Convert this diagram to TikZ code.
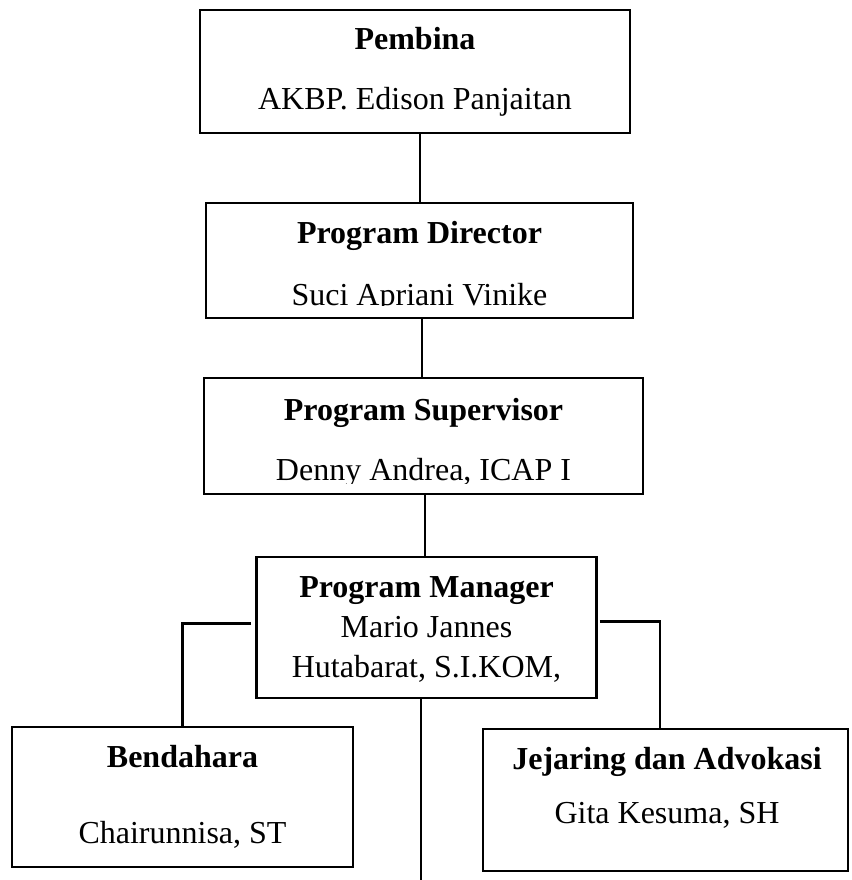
\documentclass[tikz,border=0pt]{standalone}
\usepackage{fontspec}
\setmainfont{Liberation Serif}
\begin{document}
\begin{tikzpicture}[x=1pt,y=-1pt,
  box/.style={draw, line width=2.6pt, rectangle, inner sep=0pt},
  txt/.style={anchor=base, inner sep=0pt, font=\fontsize{32}{38}\selectfont},
  hd/.style={txt, font=\fontsize{32}{38}\selectfont\bfseries},
  link/.style={line width=2.4pt}]
\useasboundingbox (0,0) rectangle (851,880);
% boxes
\node[box, minimum width=430pt, minimum height=123pt] (pem) at (415,71.5) {};
\node[box, minimum width=427pt, minimum height=115pt] (pd) at (419.5,260.5) {};
\node[box, minimum width=439pt, minimum height=116pt] (ps) at (423.5,436) {};
\node[box, minimum width=340pt, minimum height=141pt] (pm) at (426.5,627.5) {};
\node[box, minimum width=341pt, minimum height=140pt] (ben) at (182.5,797) {};
\node[box, minimum width=365pt, minimum height=142pt] (jej) at (665.5,800) {};
% texts
\node[hd] (pemh) at (415,50) {Pembina};
\node[txt] (pemn) at (415,110) {AKBP. Edison Panjaitan};
\node[hd] (pdh) at (419.5,243) {Program Director};
\begin{scope}
  \clip (210,210) rectangle (630,305.5);
  \node[txt] (pdn) at (419.5,305) {Suci Apriani Vinike};
\end{scope}
\node[hd] (psh) at (423.5,420) {Program Supervisor};
\begin{scope}
  \clip (210,440) rectangle (640,483);
  \node[txt] (psn) at (423.5,480) {Denny Andrea, ICAP I};
\end{scope}
\node[hd] (pmh) at (426.5,597) {Program Manager};
\node[txt] (pmn1) at (426.5,637) {Mario Jannes};
\node[txt] (pmn2) at (426.5,677) {Hutabarat, S.I.KOM,};
\node[hd] (benh) at (182.5,767) {Bendahara};
\node[txt] (benn) at (182.5,843) {Chairunnisa, ST};
\node[hd] (jejh) at (667,769) {Jejaring dan Advokasi};
\node[txt] (jejn) at (667,823) {Gita Kesuma, SH};
% connectors
\coordinate (c1) at (420,0);
\coordinate (c2) at (422,0);
\coordinate (c3) at (425,0);
\coordinate (tail) at (421,882);
\draw[link] (pem.south -| c1) -- (pd.north -| c1);
\draw[link] (pd.south -| c2) -- (ps.north -| c2);
\draw[link] (ps.south -| c3) -- (pm.north -| c3);
\draw[link] (pm.south -| tail) -- (tail);
\draw[link] ([xshift=-4pt,yshift=4pt]pm.west) -| (ben.north);
\draw[link] ([xshift=2pt,yshift=6pt]pm.east) -| ([xshift=-5.5pt]jej.north);
\end{tikzpicture}
\end{document}
